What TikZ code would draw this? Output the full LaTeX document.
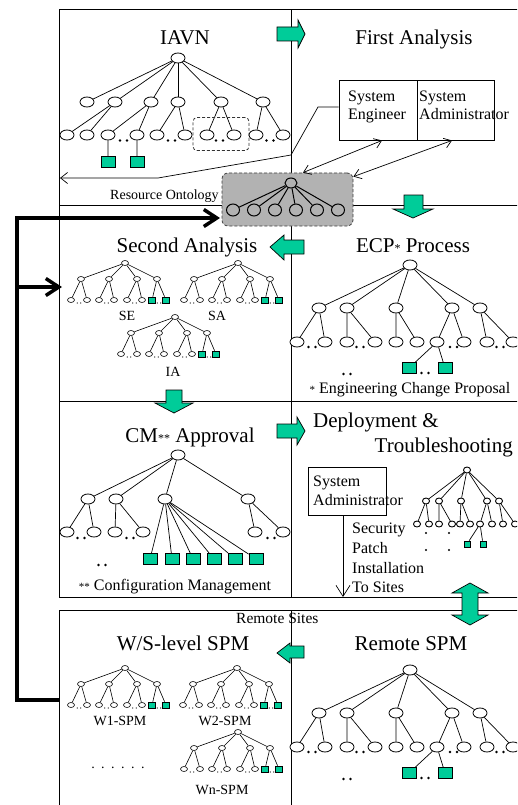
\documentclass[tikz,border=0pt]{standalone}
\usepackage{fontspec}
\setmainfont{Liberation Serif}
\usetikzlibrary{shapes.geometric,arrows.meta}
\definecolor{tgreen}{RGB}{0,204,153}
\definecolor{boxgray}{RGB}{178,178,178}
\newcommand\bdots[2]{\fill (#1-3.5,#2) circle[radius=1.3pt] (#1+3.5,#2) circle[radius=1.3pt];}
\newcommand\sdots[2]{\fill (#1-1.7,#2) circle[radius=0.6pt] (#1+1.7,#2) circle[radius=0.6pt];}
\newcommand\smalltree[3]{%
\begin{scope}[shift={(#2,#3)}]
\node[sn] (#1r) at (0,0) {};
\node[sn] (#1a1) at (-44,16) {};
\node[sn] (#1a2) at (-16,16) {};
\node[sn] (#1a3) at (12,16) {};
\node[sn] (#1a4) at (32,16) {};
\node[sn] (#1b1) at (-54,37) {};
\node[sn] (#1b2) at (-38,37) {};
\node[sn] (#1b3) at (-26,37) {};
\node[sn] (#1b4) at (-11,37) {};
\node[sn] (#1b5) at (2,37) {};
\node[sn] (#1b6) at (17,37) {};
\node[ssq] (#1b7) at (27,37) {};
\node[ssq] (#1b8) at (41,37) {};
\draw[sedge] (#1r) -- (#1a1) (#1r) -- (#1a2) (#1r) -- (#1a3) (#1r) -- (#1a4);
\draw[sedge] (#1a1) -- (#1b1) (#1a1) -- (#1b2) (#1a2) -- (#1b3) (#1a2) -- (#1b4)
  (#1a3) -- (#1b5) (#1a3) -- (#1b6) (#1a4) -- (#1b7) (#1a4) -- (#1b8);
\sdots{-46}{40}\sdots{-18.5}{40}\sdots{9.5}{40}\sdots{34}{40}
\end{scope}}
\newcommand\ecptree[3]{%
\begin{scope}[shift={(#2,#3)}]
\node[bn] (#1r) at (0,0) {};
\node[bn] (#1a1) at (-91,43) {};
\node[bn] (#1a2) at (-63,43) {};
\node[bn] (#1a3) at (-14,43) {};
\node[bn] (#1a4) at (42,43) {};
\node[bn] (#1a5) at (70,43) {};
\node[bn] (#1b1) at (-113,77) {};
\node[bn] (#1b2) at (-85,77) {};
\node[bn] (#1b3) at (-63,77) {};
\node[bn] (#1b4) at (-35,77) {};
\node[bn] (#1b5) at (-14,77) {};
\node[bn] (#1b6) at (7,77) {};
\node[bn] (#1b7) at (27,77) {};
\node[bn] (#1b8) at (54,77) {};
\node[bn] (#1b9) at (77,77) {};
\node[bn] (#1b10) at (103,77) {};
\node[bsq] (#1c1) at (-1,103) {};
\node[bsq] (#1c2) at (35,103) {};
\draw[tedge] (#1r) -- (#1a1) (#1r) -- (#1a2) (#1r) -- (#1a3) (#1r) -- (#1a4) (#1r) -- (#1a5);
\draw[tedge] (#1a1) -- (#1b1) (#1a1) -- (#1b2) (#1a2) -- (#1b3) (#1a2) -- (#1b4)
  (#1a3) -- (#1b5) (#1a3) -- (#1b6) (#1a4) -- (#1b7) (#1a4) -- (#1b8)
  (#1a5) -- (#1b9) (#1a5) -- (#1b10) (#1b7) -- (#1c1) (#1b7) -- (#1c2);
\bdots{-98}{82}\bdots{-50}{82}\bdots{43.5}{82}\bdots{90}{82}
\bdots{-63}{109}\bdots{15}{108}
\end{scope}}
\begin{document}
\begin{tikzpicture}[x=1pt,y=-1pt,
  bn/.style={ellipse,draw,line width=0.8pt,minimum width=14pt,minimum height=10pt,inner sep=0pt,fill=white},
  bsq/.style={rectangle,draw,line width=0.8pt,fill=tgreen,minimum width=14pt,minimum height=11pt,inner sep=0pt},
  sn/.style={ellipse,draw,line width=0.6pt,minimum width=7pt,minimum height=5pt,inner sep=0pt,fill=white},
  ssq/.style={rectangle,draw,line width=0.6pt,fill=tgreen,minimum width=7pt,minimum height=6pt,inner sep=0pt},
  dn/.style={ellipse,draw,line width=0.9pt,minimum width=7pt,minimum height=6pt,inner sep=0pt,fill=white},
  dsq/.style={rectangle,draw,line width=0.7pt,fill=tgreen,minimum width=6pt,minimum height=6pt,inner sep=0pt},
  gn/.style={ellipse,draw,line width=1pt,minimum width=13pt,minimum height=12pt,inner sep=0pt},
  tedge/.style={line width=0.7pt},
  sedge/.style={line width=0.6pt},
  frame/.style={line width=1pt},
  garrow/.style={draw=black,line width=0.7pt,fill=tgreen},
  thinarrow/.style={line width=0.7pt,-{Straight Barb[length=7pt,width=11pt]}},
  thinboth/.style={line width=0.7pt,{Straight Barb[length=7pt,width=10pt]}-{Straight Barb[length=7pt,width=10pt]}},
  fbline/.style={line width=3.5pt,-{Straight Barb[length=13pt,width=17pt]}},
  boxstyle/.style={draw,line width=0.9pt,inner sep=0pt},
  big/.style={font=\fontsize{21}{24}\selectfont,inner sep=0pt},
  mid/.style={font=\fontsize{16}{19}\selectfont,inner sep=0pt},
  small/.style={font=\fontsize{14}{16}\selectfont,inner sep=0pt},
]
\useasboundingbox (0,0) rectangle (517,805);
\clip (0,0) rectangle (517,805);

% ---------- frames ----------
\draw[frame] (59,10) -- (525,10);
\draw[frame] (59,10) -- (59,597);
\draw[frame] (291,10) -- (291,597);
\draw[frame] (59,205) -- (525,205);
\draw[frame] (59,401) -- (525,401);
\draw[frame] (59,597) -- (525,597);
\draw[frame] (59,815) -- (59,610) -- (525,610);
\draw[frame] (291,610) -- (291,815);

% ---------- titles ----------
\node[big,anchor=base] (t-iavn) at (185,45) {IAVN};
\node[big,anchor=base] (t-fa) at (414,45) {First Analysis};
\node[big,anchor=base] (t-sa) at (187,252) {Second Analysis};
\node[big,anchor=base] (t-ecp) at (413,252) {ECP{\fontsize{12}{12}\selectfont*} Process};
\node[big,anchor=base] (t-cm) at (190,442) {CM{\fontsize{12}{12}\selectfont**} Approval};
\node[big,anchor=base west] (t-dep) at (313,427) {Deployment \&};
\node[big,anchor=base east] (t-tr) at (513,452) {Troubleshooting};
\node[big,anchor=base] (t-ws) at (183,650) {W/S-level SPM};
\node[big,anchor=base] (t-rs) at (411,650) {Remote SPM};

% ---------- IAVN tree ----------
\node[bn] (i-r) at (178,58) {};
\foreach \n/\x in {1/87,2/115,3/151,4/178,5/221,6/263} \node[bn] (i-a\n) at (\x,102) {};
\foreach \n/\x in {1/67,2/87,3/108,4/137,5/157,6/185,7/207,8/234,9/256,10/283} \node[bn] (i-b\n) at (\x,135) {};
\node[bsq] (i-c1) at (108,162) {};
\node[bsq] (i-c2) at (137,162) {};
\foreach \n in {1,...,6} \draw[tedge] (i-r) -- (i-a\n);
\draw[tedge] (i-a2) -- (i-b1) (i-a2) -- (i-b2) (i-a3) -- (i-b3) (i-a3) -- (i-b4)
  (i-a4) -- (i-b5) (i-a4) -- (i-b6) (i-a5) -- (i-b7) (i-a5) -- (i-b8)
  (i-a6) -- (i-b9) (i-a6) -- (i-b10) (i-b3) -- (i-c1) (i-b4) -- (i-c2);
\bdots{123.5}{140.5}\bdots{171.5}{140.5}\bdots{219.5}{140.5}\bdots{270}{140.5}
\node[draw=black!80,line width=0.8pt,dash pattern=on 3pt off 2pt,rounded corners=4pt,minimum width=56pt,minimum height=33pt,inner sep=0pt] (i-sel) at (221,134) {};

% ---------- First analysis box ----------
\node[boxstyle,minimum width=78pt,minimum height=60pt] (fa-se) at (378,110) {};
\node[boxstyle,minimum width=77pt,minimum height=60pt] (fa-sa) at (455.5,110) {};
\node[mid,anchor=base west] (fa-t1) at (348,102) {System};
\node[mid,anchor=base west] (fa-t2) at (348,120) {Engineer};
\node[mid,anchor=base west] (fa-t3) at (419,102) {System};
\node[mid,anchor=base west] (fa-t4) at (419,120) {Administrator};

% ---------- Resource ontology ----------
\node[small,anchor=base west] (ro-t) at (110,200) {Resource Ontology};
\node[draw=black!75,line width=0.8pt,dash pattern=on 3pt off 2pt,rounded corners=6pt,fill=boxgray,minimum width=131pt,minimum height=53pt,inner sep=0pt] (ro) at (287.5,199.5) {};
\node[gn,minimum width=12pt,minimum height=10pt] (ro-r) at (291,183) {};
\foreach \n/\x in {1/233,2/254,3/275,4/296,5/317,6/338} {
  \node[gn] (ro-a\n) at (\x,210) {};
  \draw[line width=1pt] (ro-r) -- (ro-a\n);
}

\coordinate (iavn-end) at (60,178);
\draw[thinarrow] ([yshift=3pt]fa-se.west) -- (318,107) -- (291,155) -- (158,178) -- (iavn-end);
\draw[thinboth] ([xshift=4pt]fa-se.south) -- ([xshift=15.5pt]ro.north);
\draw[thinboth] ([xshift=-3.5pt]fa-sa.south) -- ([yshift=-4pt]ro.north east);

% ---------- Second analysis ----------
\smalltree{se-}{125}{263}
\smalltree{sa-}{238}{263}
\smalltree{ia-}{175}{317}
\node[small,anchor=base] (se-t) at (127,320) {SE};
\node[small,anchor=base] (sa-t) at (217,320) {SA};
\node[small,anchor=base] (ia-t) at (173,376) {IA};

% ---------- ECP ----------
\ecptree{e-}{410}{265}
\node[mid,anchor=base] (e-t) at (410,393) {{\fontsize{11}{11}\selectfont*} Engineering Change Proposal};

% ---------- CM approval ----------
\node[bn] (c-r) at (178,455) {};
\foreach \n/\x in {1/88,2/116,3/165,4/248} \node[bn] (c-a\n) at (\x,499) {};
\foreach \n/\x in {1/67,2/94,3/115,4/143,5/255,6/283} \node[bn] (c-b\n) at (\x,532) {};
\foreach \n/\x in {1/150,2/172,3/193,4/214,5/235,6/256} {
  \node[bsq] (c-s\n) at (\x,559) {};
  \draw[tedge] (c-a3) -- (c-s\n);
}
\foreach \n in {1,...,4} \draw[tedge] (c-r) -- (c-a\n);
\draw[tedge] (c-a1) -- (c-b1) (c-a1) -- (c-b2) (c-a2) -- (c-b3) (c-a2) -- (c-b4)
  (c-a4) -- (c-b5) (c-a4) -- (c-b6);
\bdots{81}{538}\bdots{130}{538}\bdots{271}{538}\bdots{102}{565}
\node[mid,anchor=base] (c-t) at (175,590) {{\fontsize{11}{11}\selectfont**} Configuration Management};

% ---------- Deployment ----------
\node[boxstyle,minimum width=78pt,minimum height=48pt] (da) at (347,491) {};
\node[mid,anchor=base west] (da-t1) at (313,486) {System};
\node[mid,anchor=base west] (da-t2) at (313,505) {Administrator};
\coordinate (da-end) at (343,597);
\draw[line width=0.7pt,-{Straight Barb[length=11pt,width=14pt]}] ([xshift=-4pt]da.south) -- (da-end);
\node[mid,anchor=base west] (sp-1) at (352,533) {Security};
\node[mid,anchor=base west] (sp-2) at (352,553) {Patch};
\node[mid,anchor=base west] (sp-3) at (352,573) {Installation};
\node[mid,anchor=base west] (sp-4) at (352,592) {To Sites};

\node[dn] (p-r) at (467,470) {};
\foreach \n/\x in {1/426,2/439,3/461,4/487,5/499} {
  \node[dn] (p-a\n) at (\x,501) {};
  \draw[tedge] (p-r) -- (p-a\n);
}
\foreach \n/\x in {1/417,2/429,3/439,4/452,5/460,6/470,7/480,8/492,9/503,10/515} \node[dn] (p-b\n) at (\x,524) {};
\node[dsq] (p-c1) at (467,544) {};
\node[dsq] (p-c2) at (483,544) {};
\draw[tedge] (p-a1) -- (p-b1) (p-a1) -- (p-b2) (p-a2) -- (p-b3) (p-a2) -- (p-b4)
  (p-a3) -- (p-b5) (p-a3) -- (p-b6) (p-a4) -- (p-b7) (p-a4) -- (p-b8)
  (p-a5) -- (p-b9) (p-a5) -- (p-b10) (p-b7) -- (p-c1) (p-b7) -- (p-c2);
\fill (426,533) circle[radius=1.1pt] (449,533) circle[radius=1.1pt]
      (426,550) circle[radius=1.1pt] (449,550) circle[radius=1.1pt];

% ---------- Remote sites ----------
\node[font=\fontsize{15.5}{18}\selectfont,inner sep=0pt,anchor=base west] (rsite) at (236,623) {Remote Sites};
\smalltree{w1-}{125}{668}
\smalltree{w2-}{237}{668}
\smalltree{wn-}{238}{732}
\node[small,anchor=base] (w1-t) at (120,725) {W1-SPM};
\node[small,anchor=base] (w2-t) at (225,725) {W2-SPM};
\node[small,anchor=base] (wn-t) at (222,794) {Wn-SPM};
\node[small,anchor=base] (w-dots) at (118,768) {.\hspace{6.5pt}.\hspace{6.5pt}.\hspace{6.5pt}.\hspace{6.5pt}.\hspace{6.5pt}.};
\ecptree{m-}{410}{670}

% ---------- green block arrows ----------
\draw[garrow] (277,27) -- (298,27) -- (298,20) -- (305,34) -- (298,48) -- (298,41) -- (277,41) -- cycle;
\draw[garrow] (404,195) -- (423,195) -- (423,209) -- (433,209) -- (413,218) -- (393,209) -- (404,209) -- cycle;
\draw[garrow] (304,240) -- (284,240) -- (284,235) -- (270,247) -- (284,260) -- (284,254) -- (304,254) -- cycle;
\draw[garrow] (166,390) -- (182,390) -- (182,403) -- (193,403) -- (174,413) -- (155,403) -- (166,403) -- cycle;
\draw[garrow] (277,424) -- (297,424) -- (297,417) -- (305,431) -- (297,445) -- (297,438) -- (277,438) -- cycle;
\draw[garrow] (470,583) -- (488,593) -- (478,593) -- (478,615) -- (488,615) -- (470,625) -- (452,615) -- (462,615) -- (462,593) -- (452,593) -- cycle;
\draw[garrow] (304,646) -- (290,646) -- (290,643) -- (277,653) -- (290,663) -- (290,658) -- (304,658) -- cycle;

% ---------- feedback line ----------
\coordinate (fb-start) at (59,700);
\coordinate (fb-top) at (220,218);
\coordinate (fb-mid) at (17,287);
\coordinate (fb-sa) at (62,287);
\draw[fbline] (fb-start) -- (17,700) -- (17,218) -- (fb-top);
\draw[fbline] (fb-mid) -- (fb-sa);
\end{tikzpicture}
\end{document}
